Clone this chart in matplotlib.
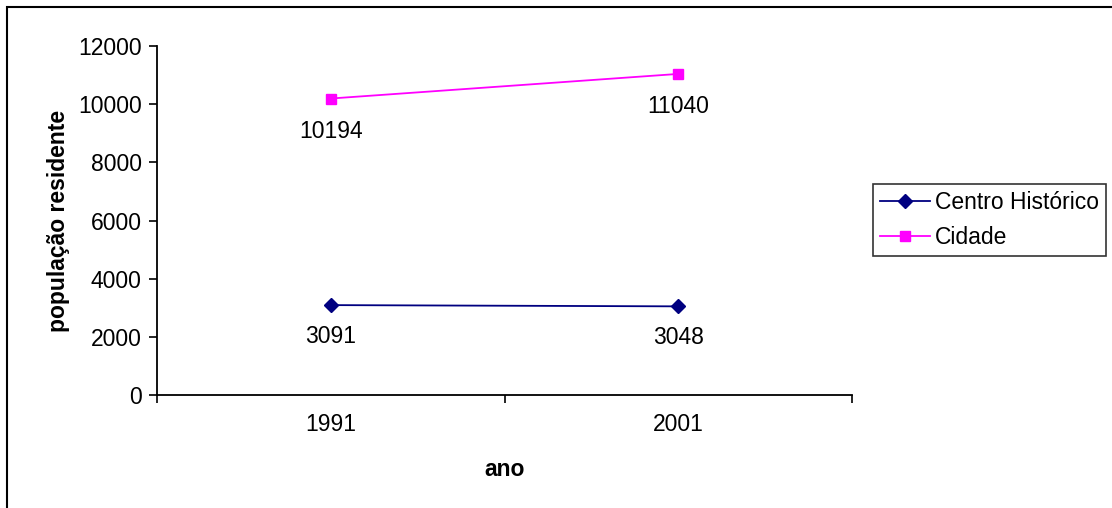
import matplotlib.pyplot as plt
from matplotlib.patches import Rectangle

plt.rcParams["font.family"] = ["Liberation Sans", "DejaVu Sans"]

# Resident population by year
years = ["1991", "2001"]
centro_historico = [3091, 3048]
cidade = [10194, 11040]
yticks = [0, 2000, 4000, 6000, 8000, 10000, 12000]

fig = plt.figure(figsize=(11.12, 5.08), dpi=100)
ax = fig.add_axes([157 / 1112, 1 - 395 / 508, 695 / 1112, 349 / 508])

x = [i + 0.5 for i in range(len(years))]

ax.plot(x, centro_historico, color="#000080", marker="D", markersize=7,
        linewidth=1.3, label="Centro Histórico")
ax.plot(x, cidade, color="#FF00FF", marker="s", markersize=7,
        linewidth=1.3, label="Cidade")

# Value labels under each point
for xi, v in zip(x, centro_historico):
    ax.annotate(str(v), (xi, v), xytext=(0, -31), textcoords="offset pixels",
                ha="center", va="center", fontsize=16.5)
for xi, v in zip(x, cidade):
    ax.annotate(str(v), (xi, v), xytext=(0, -33), textcoords="offset pixels",
                ha="center", va="center", fontsize=16.5)

ax.set_xlim(0, len(years))
ax.set_ylim(0, 12000)
ax.set_yticks(yticks)
ax.set_yticklabels([str(t) for t in yticks], fontsize=16.5)

# Category ticks sit between categories, labels in the middle
ax.set_xticks(range(len(years) + 1))
ax.set_xticklabels([])
ax.set_xticks(x, minor=True)
ax.set_xticklabels(years, minor=True, fontsize=16.5)
ax.tick_params(axis="x", which="minor", length=0, pad=13)
ax.tick_params(axis="x", which="major", direction="out", length=6, width=1.2)
ax.tick_params(axis="y", direction="out", length=6, width=1.2, pad=5)

for side in ["top", "right"]:
    ax.spines[side].set_visible(False)
for side in ["left", "bottom"]:
    ax.spines[side].set_linewidth(1.3)

ax.set_ylabel("população residente", fontsize=16.5, fontweight="bold", labelpad=6)
ax.set_xlabel("ano", fontsize=16.5, fontweight="bold", labelpad=16)

leg = ax.legend(loc="upper left", bbox_to_anchor=(873 / 1112, 1 - 184 / 508),
                bbox_transform=fig.transFigure, fontsize=16.5, frameon=True,
                fancybox=False, handlelength=2.2, handletextpad=0.2,
                borderpad=0.3, labelspacing=0.55, borderaxespad=0)
leg.get_frame().set_edgecolor("black")
leg.get_frame().set_linewidth(1.2)

# Chart area border
fig.patches.append(Rectangle((7 / 1112, -0.1), 1.2, 1 - 7 / 508 + 0.1,
                             transform=fig.transFigure, fill=False,
                             edgecolor="black", linewidth=1.5))

fig.savefig("out.png", dpi=100)
